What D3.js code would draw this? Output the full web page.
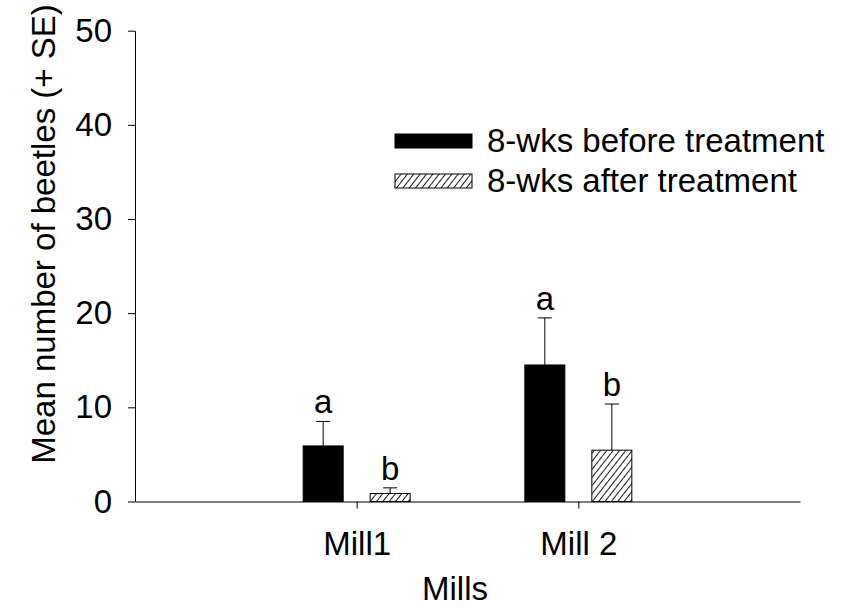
<!DOCTYPE html>
<html lang="en">
<head>
    <meta charset="UTF-8">
    <title>Mean number of beetles</title>
    <style>
        body {
            margin: 0;
            padding: 0;
            background-color: #ffffff;
        }
        text {
            font-family: Arial, "Liberation Sans", sans-serif;
            fill: #000000;
        }
        .axis path, .axis line {
            stroke: #000;
            stroke-width: 1px;
        }
    </style>
</head>
<body>
    <div id="chart"></div>

    <script src="https://d3js.org/d3.v7.min.js"></script>
    <script>
        const width = 841;
        const height = 610;

        // Data
        const mills = ["Mill1", "Mill 2"];
        const series = ["8-wks before treatment", "8-wks after treatment"];
        const beforeMean = [5.9, 14.5];
        const beforeSE = [2.6, 5.0];
        const afterMean = [0.85, 5.45];
        const afterSE = [0.6, 4.9];
        const beforeLetters = ["a", "a"];
        const afterLetters = ["b", "b"];
        const yTicks = [0, 10, 20, 30, 40, 50];

        const margin = {top: 30.7, right: 41, bottom: 108.5, left: 135};
        const fontSize = "33px";

        const svg = d3.select("#chart").append("svg")
            .attr("width", width)
            .attr("height", height);

        // Hatch pattern for the "after" bars
        const defs = svg.append("defs");
        const hatch = defs.append("pattern")
            .attr("id", "hatch")
            .attr("patternUnits", "userSpaceOnUse")
            .attr("width", 5)
            .attr("height", 5)
            .attr("patternTransform", "rotate(38)");
        hatch.append("rect")
            .attr("width", 5)
            .attr("height", 5)
            .attr("fill", "#fff");
        hatch.append("line")
            .attr("x1", 0).attr("y1", 0)
            .attr("x2", 0).attr("y2", 5)
            .attr("stroke", "#000")
            .attr("stroke-width", 1.8);

        const x = d3.scalePoint()
            .domain(mills)
            .range([margin.left, width - margin.right])
            .padding(1);

        const x1 = d3.scaleBand()
            .domain(series)
            .range([-53.5, 53.5])
            .paddingInner(0.403);

        const y = d3.scaleLinear()
            .domain([0, 50])
            .range([height - margin.bottom, margin.top]);

        const rows = mills.map((m, i) => [
            {mill: m, key: series[0], mean: beforeMean[i], se: beforeSE[i], letter: beforeLetters[i]},
            {mill: m, key: series[1], mean: afterMean[i], se: afterSE[i], letter: afterLetters[i]}
        ]).flat();

        const fillFor = key => key === series[0] ? "#000" : "url(#hatch)";
        const cx = d => x(d.mill) + x1(d.key) + x1.bandwidth() / 2;

        // Error bars (upper only) drawn first so bars sit on top
        const err = svg.append("g").selectAll("g")
            .data(rows)
            .enter().append("g");

        err.append("line")
            .attr("x1", cx)
            .attr("x2", cx)
            .attr("y1", d => y(d.mean))
            .attr("y2", d => y(d.mean + d.se))
            .attr("stroke", "#000")
            .attr("stroke-width", 1);

        err.append("line")
            .attr("x1", d => cx(d) - 7)
            .attr("x2", d => cx(d) + 7)
            .attr("y1", d => y(d.mean + d.se))
            .attr("y2", d => y(d.mean + d.se))
            .attr("stroke", "#000")
            .attr("stroke-width", 1);

        svg.append("g").selectAll("rect")
            .data(rows)
            .enter().append("rect")
            .attr("x", d => x(d.mill) + x1(d.key))
            .attr("y", d => y(d.mean))
            .attr("width", x1.bandwidth())
            .attr("height", d => y(0) - y(d.mean))
            .attr("fill", d => fillFor(d.key))
            .attr("stroke", "#000")
            .attr("stroke-width", 1);

        // Significance letters
        svg.append("g").selectAll("text")
            .data(rows)
            .enter().append("text")
            .attr("x", cx)
            .attr("y", d => y(d.mean + d.se) - 8)
            .attr("text-anchor", "middle")
            .style("font-size", fontSize)
            .text(d => d.letter);

        // Axes
        const yAxis = svg.append("g")
            .attr("class", "axis")
            .attr("transform", `translate(${margin.left},0)`)
            .call(d3.axisLeft(y).tickValues(yTicks).tickSize(7).tickPadding(16).tickSizeOuter(0));
        yAxis.selectAll("text").style("font-size", fontSize);

        const xAxis = svg.append("g")
            .attr("class", "axis")
            .attr("transform", `translate(0,${y(0)})`)
            .call(d3.axisBottom(x).tickSize(7).tickPadding(23).tickSizeOuter(0));
        xAxis.selectAll("text").style("font-size", fontSize);

        // Axis titles
        svg.append("text")
            .attr("transform", "translate(55,234) rotate(-90)")
            .attr("text-anchor", "middle")
            .style("font-size", fontSize)
            .text("Mean number of beetles (+ SE)");

        svg.append("text")
            .attr("x", 455)
            .attr("y", 600)
            .attr("text-anchor", "middle")
            .style("font-size", fontSize)
            .text("Mills");

        // Legend
        const legend = svg.append("g")
            .selectAll("g")
            .data(series)
            .enter().append("g")
            .attr("transform", (d, i) => `translate(395,${141 + i * 40})`);

        legend.append("rect")
            .attr("x", 0)
            .attr("y", -7)
            .attr("width", 77)
            .attr("height", 14)
            .attr("fill", d => fillFor(d))
            .attr("stroke", "#000")
            .attr("stroke-width", 1);

        legend.append("text")
            .attr("x", 92)
            .attr("y", 11)
            .style("font-size", fontSize)
            .text(d => d);
    </script>
</body>
</html>
